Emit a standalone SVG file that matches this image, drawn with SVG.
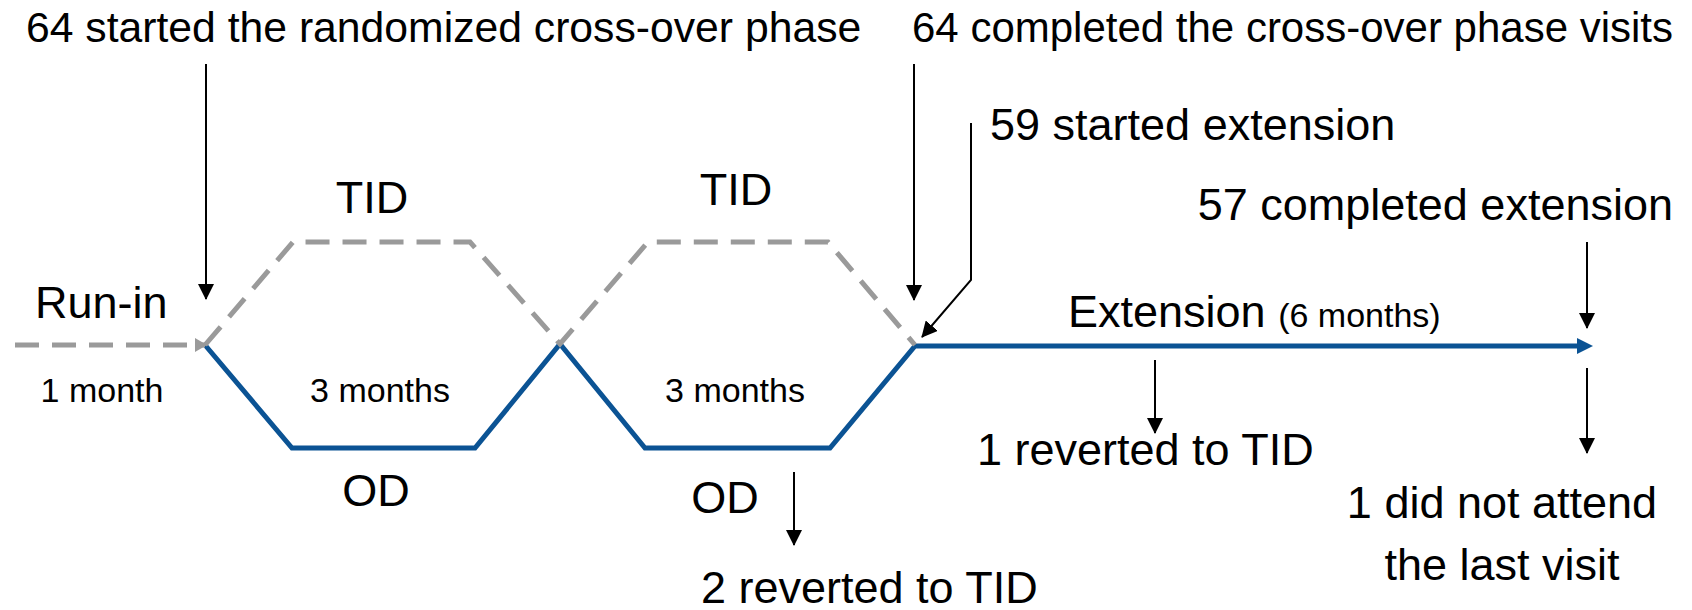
<svg xmlns="http://www.w3.org/2000/svg" width="1692" height="610" viewBox="0 0 1692 610">
<defs>
<style>
text{font-family:"Liberation Sans",Arial,sans-serif;fill:#000}
.t42{font-size:42px}
.t43{font-size:42.7px}
.t45{font-size:45px}
.t34{font-size:34px}
.blk{fill:none;stroke:#000;stroke-width:2}
.blue{fill:none;stroke:#0b5394;stroke-width:5;stroke-linejoin:miter}
.gray{fill:none;stroke:#9a9a9a;stroke-width:5;stroke-dasharray:24 13}
</style>
<marker id="ah" markerUnits="userSpaceOnUse" markerWidth="16" markerHeight="16" refX="15" refY="8" orient="auto" viewBox="0 0 16 16">
<path d="M0,0 L16,8 L0,16 z" fill="#000"/>
</marker>
<marker id="ahBlue" markerUnits="userSpaceOnUse" markerWidth="16" markerHeight="16" refX="1" refY="8" orient="auto" viewBox="0 0 16 16">
<path d="M0,0 L16,8 L0,16 z" fill="#0b5394"/>
</marker>
<marker id="ahGray" markerUnits="userSpaceOnUse" markerWidth="12" markerHeight="14" refX="10" refY="7" orient="auto" viewBox="0 0 12 14">
<path d="M0,0 L12,7 L0,14 z" fill="#9a9a9a"/>
</marker>
</defs>
<rect width="1692" height="610" fill="#fff"/>

<g id="connectors">
<path class="blue" d="M205,345 L292,448 L475,448 L560,344 L645,448 L830,448 L915,346 L1578,346" marker-end="url(#ahBlue)"/>
<path class="gray" d="M15,345 L205,345" marker-end="url(#ahGray)"/>
<path class="gray" d="M205,345 L293,242 L470,242 L560,344 L648,242 L828,242 L915,345"/>
<path class="blk" d="M206,64 L206,299" marker-end="url(#ah)"/>
<path class="blk" d="M914,64 L914,300" marker-end="url(#ah)"/>
<path class="blk" d="M971,123 L971,280 L922,337" marker-end="url(#ah)"/>
<path class="blk" d="M1587,242 L1587,328" marker-end="url(#ah)"/>
<path class="blk" d="M1587,368 L1587,453" marker-end="url(#ah)"/>
<path class="blk" d="M1155,360 L1155,433" marker-end="url(#ah)"/>
<path class="blk" d="M794,472 L794,545" marker-end="url(#ah)"/>
</g>

<g id="label-start"><text class="t43" x="26" y="42">64 started the randomized cross-over phase</text></g>
<g id="label-completed"><text class="t42" x="912" y="42">64 completed the cross-over phase visits</text></g>
<g id="label-ext-start"><text class="t45" x="990" y="140">59 started extension</text></g>
<g id="label-ext-done"><text class="t45" x="1673" y="220" text-anchor="end">57 completed extension</text></g>
<g id="label-tid1"><text class="t45" x="372" y="213" text-anchor="middle">TID</text></g>
<g id="label-tid2"><text class="t45" x="736" y="205" text-anchor="middle">TID</text></g>
<g id="label-runin"><text class="t45" x="35" y="318">Run-in</text></g>
<g id="label-1month"><text class="t34" x="102" y="402" text-anchor="middle">1 month</text></g>
<g id="label-3m1"><text class="t34" x="380" y="402" text-anchor="middle">3 months</text></g>
<g id="label-3m2"><text class="t34" x="735" y="402" text-anchor="middle">3 months</text></g>
<g id="label-od1"><text class="t45" x="376" y="506" text-anchor="middle">OD</text></g>
<g id="label-od2"><text class="t45" x="725" y="513" text-anchor="middle">OD</text></g>
<g id="label-extension"><text class="t45" x="1068" y="327">Extension <tspan class="t34">(6 months)</tspan></text></g>
<g id="label-rev1"><text class="t45" x="977" y="465">1 reverted to TID</text></g>
<g id="label-rev2"><text class="t45" x="701" y="603">2 reverted to TID</text></g>
<g id="label-noattend"><text class="t45" x="1502" y="518" text-anchor="middle">1 did not attend</text><text class="t45" x="1502" y="580" text-anchor="middle">the last visit</text></g>
</svg>
